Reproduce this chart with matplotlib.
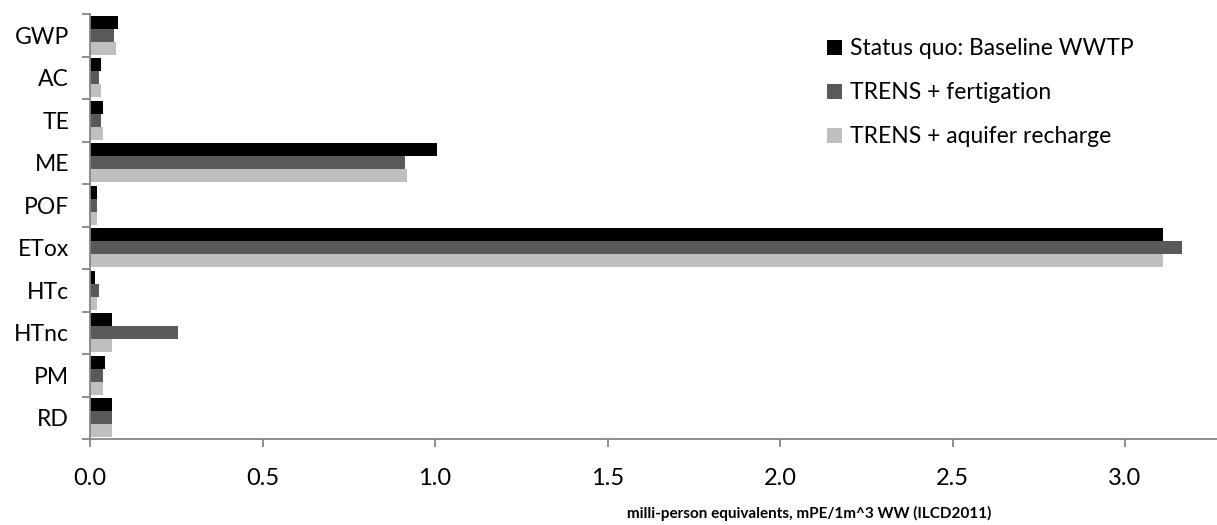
import matplotlib
matplotlib.use("Agg")
import matplotlib.pyplot as plt
import numpy as np
from matplotlib.patches import Patch

plt.rcParams['font.family'] = ['Lato', 'DejaVu Sans']

categories = ["GWP", "AC", "TE", "ME", "POF", "ETox", "HTc", "HTnc", "PM", "RD"]
series_names = ["Status quo: Baseline WWTP", "TRENS + fertigation", "TRENS + aquifer recharge"]
baseline = [0.080, 0.031, 0.037, 1.005, 0.020, 3.109, 0.0145, 0.064, 0.043, 0.065]
fertigation = [0.070, 0.026, 0.031, 0.912, 0.020, 3.165, 0.026, 0.255, 0.037, 0.065]
aquifer = [0.074, 0.031, 0.037, 0.918, 0.019, 3.109, 0.019, 0.064, 0.037, 0.065]
colors = ["#000000", "#595959", "#BFBFBF"]
x_ticks = [0.0, 0.5, 1.0, 1.5, 2.0, 2.5, 3.0]
x_label = "milli-person equivalents, mPE/1m^3 WW (ILCD2011)"

W, H = 1217, 525
fig = plt.figure(figsize=(W / 100, H / 100), dpi=100)
ax = fig.add_axes([90 / W, 1 - 439 / H, (W - 90) / W, (439 - 14) / H])

y = np.arange(len(categories))
bh = 0.305
for k, (vals, off) in enumerate(zip([baseline, fertigation, aquifer], [-bh, 0, bh])):
    ax.barh(y + off, vals, height=bh, color=colors[k], edgecolor='none', label=series_names[k])

ax.set_ylim(len(categories) - 0.5, -0.5)
ax.set_xlim(0, (W - 90) / 345.0)

for s in ['top', 'right']:
    ax.spines[s].set_visible(False)
for s in ['left', 'bottom']:
    ax.spines[s].set_color('#868686')
    ax.spines[s].set_linewidth(1.3)

ax.set_xticks(x_ticks)
ax.set_xticklabels([f"{t:.1f}" for t in x_ticks], fontsize=17)
ax.tick_params(axis='x', direction='out', length=6, width=1.3, color='#868686', pad=15)

ax.set_yticks(y)
ax.set_yticklabels(categories, fontsize=16.5)
ax.tick_params(axis='y', which='major', length=0, pad=15)
ax.set_yticks(np.arange(len(categories) + 1) - 0.5, minor=True)
ax.tick_params(axis='y', which='minor', direction='out', length=6, width=1.3, color='#868686')

fig.text(809 / W, 1 - 513 / H, x_label, ha='center', va='center', fontsize=11, fontweight='bold')

handles = [Patch(facecolor=c, edgecolor='none') for c in colors]
fig.legend(handles, series_names, loc='upper left', bbox_to_anchor=(816 / W, 1 - 27 / H),
           frameon=False, fontsize=16.5, handlelength=0.65, handleheight=0.65,
           handletextpad=0.35, labelspacing=1.0, borderpad=0)

fig.savefig("out.png", dpi=100)
